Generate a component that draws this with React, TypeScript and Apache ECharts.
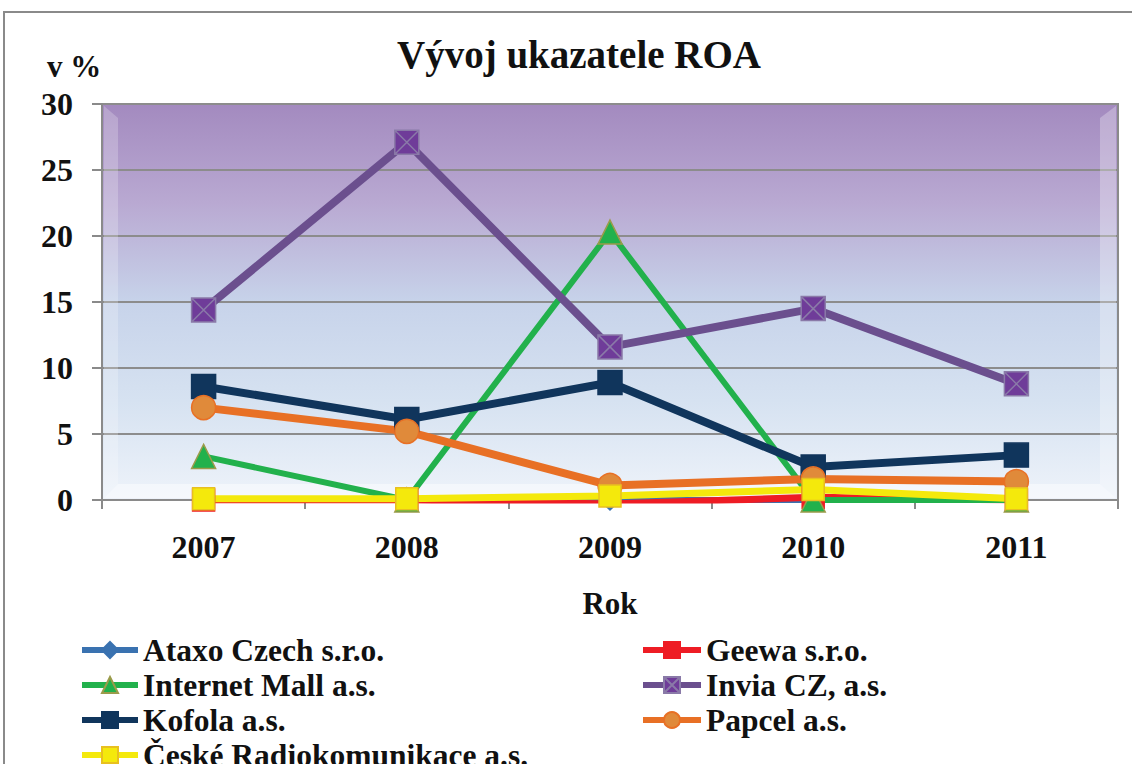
import React, { useEffect, useRef } from "react";
import * as echarts from "echarts";

const categories = ["2007", "2008", "2009", "2010", "2011"];
const ataxo = [0, 0, 0, 0, 0];
const geewa = [0, 0, -0.3, 0.2, 0];
const internetMall = [3.3, 0, 20.3, 0, 0];
const invia = [14.4, 27.1, 11.6, 14.5, 8.8];
const kofola = [8.6, 6.1, 8.9, 2.5, 3.4];
const papcel = [7.0, 5.2, 1.1, 1.6, 1.4];
const ceske = [0.1, 0.1, 0.3, 0.8, 0.1];

const FONT = "'Liberation Serif', 'Times New Roman', serif";
const CROSS_SQUARE = "path://M0 0H10V10H0ZM0 0L10 10M10 0L0 10";

export default function App() {
  const ref = useRef<HTMLDivElement>(null);
  useEffect(() => {
    if (!ref.current) return;
    const chart = echarts.init(ref.current, null, { renderer: "svg" });
    const mk = (
      name: string,
      data: number[],
      color: string,
      lineWidth: number,
      symbol: string,
      symbolSize: number,
      fill: string,
      border: string
    ) => ({
      name,
      type: "line",
      data,
      symbol,
      symbolSize,
      lineStyle: { color, width: lineWidth },
      itemStyle: { color: fill, borderColor: border, borderWidth: 1.5 },
      z: 3,
    });
    const legendText = { fontFamily: FONT, fontSize: 31.5, fontWeight: "bold", color: "#111", lineHeight: 30 };
    chart.setOption({
      animation: false,
      textStyle: { fontFamily: FONT },
      title: {
        text: "Vývoj ukazatele ROA",
        left: 574,
        textAlign: "center",
        top: 30,
        textStyle: { fontFamily: FONT, fontSize: 39, fontWeight: "bold", color: "#111" },
      },
      grid: {
        left: 102,
        right: 14,
        top: 104,
        bottom: 264,
        show: true,
        borderColor: "#8a8a8a",
        borderWidth: 2,
        backgroundColor: new echarts.graphic.LinearGradient(0, 0, 0, 1, [
          { offset: 0, color: "#a38abf" },
          { offset: 0.25, color: "#b9a9d2" },
          { offset: 0.5, color: "#c7d3ea" },
          { offset: 0.75, color: "#d6e2f1" },
          { offset: 1, color: "#eef3fa" },
        ]),
      },
      xAxis: {
        type: "category",
        data: categories,
        boundaryGap: true,
        name: "Rok",
        nameLocation: "middle",
        nameGap: 88,
        nameTextStyle: { fontFamily: FONT, fontSize: 31, fontWeight: "bold", color: "#111" },
        axisLine: { lineStyle: { color: "#8a8a8a", width: 2 } },
        axisTick: { show: true, length: 9, lineStyle: { color: "#8a8a8a", width: 2 } },
        axisLabel: { fontFamily: FONT, fontSize: 32, fontWeight: "bold", color: "#111", margin: 31 },
      },
      yAxis: {
        type: "value",
        min: 0,
        max: 30,
        interval: 5,
        axisLine: { show: true, lineStyle: { color: "#8a8a8a", width: 2 } },
        axisTick: { show: true, length: 10, lineStyle: { color: "#8a8a8a", width: 2 } },
        axisLabel: { fontFamily: FONT, fontSize: 32, fontWeight: "bold", color: "#111", margin: 29 },
        splitLine: { lineStyle: { color: "#8c8c8c", width: 2 } },
      },
      legend: [
        {
          orient: "vertical",
          left: 74,
          top: 629,
          height: 200,
          itemWidth: 56,
          itemHeight: 20,
          itemGap: 3,
          lineStyle: { width: 6 },
          data: ["Ataxo Czech s.r.o.", "Internet Mall a.s.", "Kofola a.s.", "České Radiokomunikace a.s."],
          textStyle: legendText,
        },
        {
          orient: "vertical",
          left: 635,
          top: 629,
          height: 200,
          itemWidth: 58,
          itemHeight: 20,
          itemGap: 3,
          lineStyle: { width: 6 },
          data: ["Geewa s.r.o.", "Invia CZ, a.s.", "Papcel a.s."],
          textStyle: legendText,
        },
      ],
      graphic: [
        {
          type: "rect",
          shape: { x: 4, y: 12, width: 1140, height: 800 },
          style: { fill: "none", stroke: "#8a8a8a", lineWidth: 2 },
          silent: true,
        },
        {
          type: "text",
          left: 47,
          top: 51,
          style: { text: "v %", font: `bold 31px ${FONT}`, fill: "#111" },
        },
        {
          type: "polygon",
          z: 1,
          shape: { points: [[104, 106], [118, 118], [118, 484], [104, 498]] },
          style: { fill: "rgba(255,255,255,0.22)" },
          silent: true,
        },
        {
          type: "polygon",
          z: 1,
          shape: { points: [[104, 498], [118, 484], [1100, 484], [1116, 498]] },
          style: { fill: "rgba(255,255,255,0.45)" },
          silent: true,
        },
        {
          type: "polygon",
          z: 1,
          shape: { points: [[1116, 106], [1100, 118], [1100, 484], [1116, 498]] },
          style: { fill: "rgba(255,255,255,0.28)" },
          silent: true,
        },
      ],
      series: [
        mk("Ataxo Czech s.r.o.", ataxo, "#3a72b0", 6, "diamond", 20, "#3a72b0", "#3a72b0"),
        mk("Geewa s.r.o.", geewa, "#ee1c24", 7, "rect", 22, "#ee1c24", "#ee1c24"),
        mk("Internet Mall a.s.", internetMall, "#22b14c", 6, "triangle", 24, "#22b14c", "#9b9b4a"),
        mk("Invia CZ, a.s.", invia, "#6b4f8e", 8, CROSS_SQUARE, 24, "#6f3c99", "#8a7aa8"),
        mk("Kofola a.s.", kofola, "#10355c", 8, "rect", 24, "#10355c", "#10355c"),
        mk("Papcel a.s.", papcel, "#e87025", 8, "circle", 24, "#e08a3a", "#e87025"),
        mk("České Radiokomunikace a.s.", ceske, "#f4e90c", 7, "rect", 22, "#f4e90c", "#e8c020"),
      ],
    });
    return () => chart.dispose();
  }, []);
  return (
    <div
      ref={ref}
      style={{ position: "fixed", left: 0, top: 0, width: 1132, height: 764, background: "#fff" }}
    />
  );
}
